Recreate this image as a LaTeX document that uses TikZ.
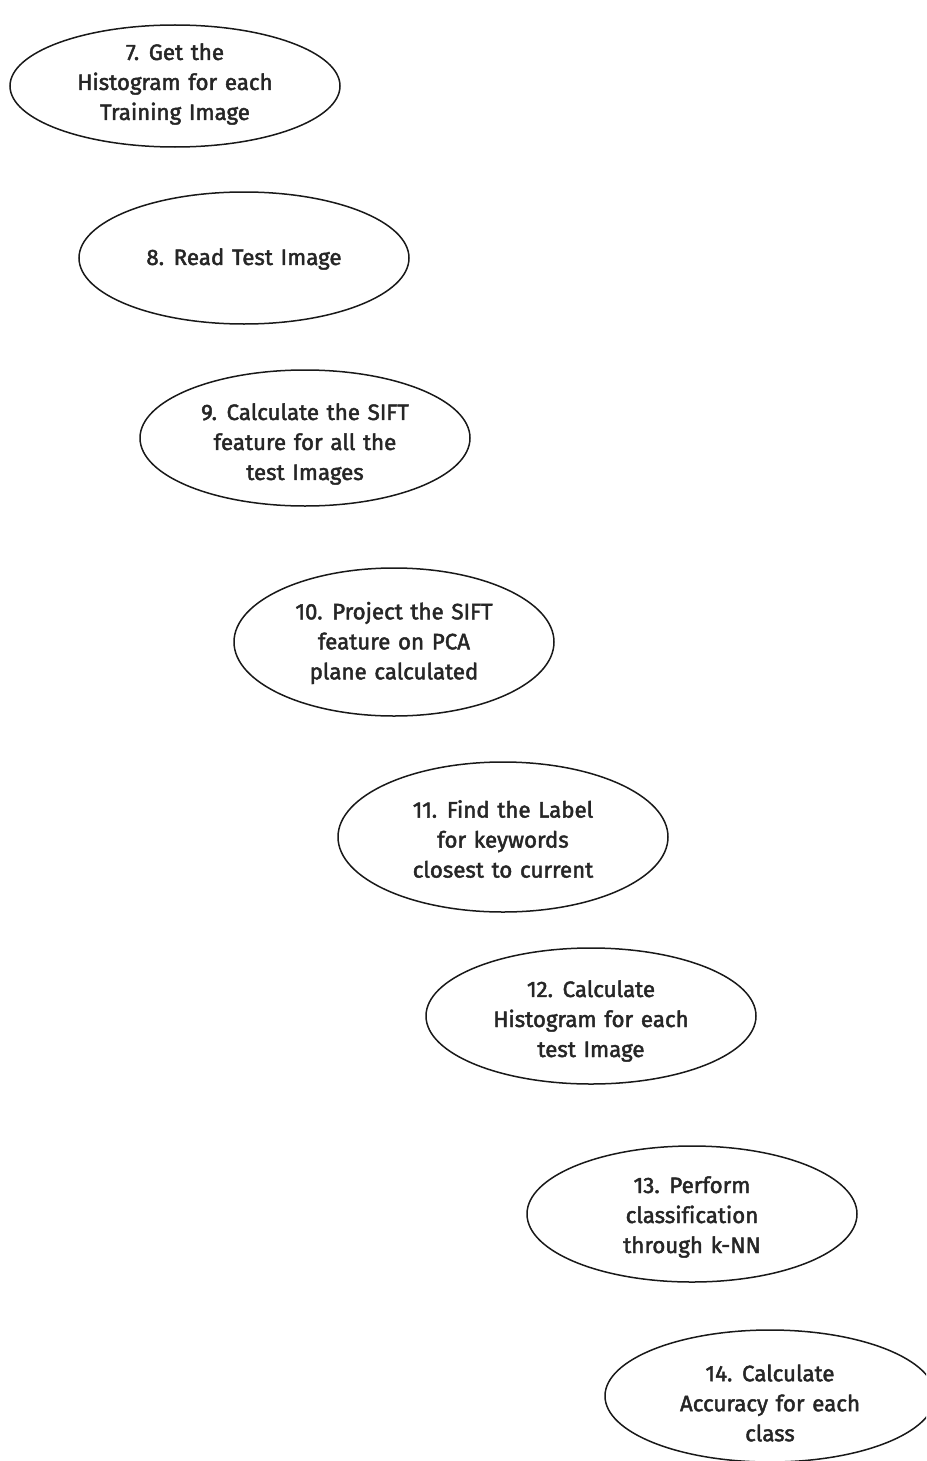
\documentclass[tikz,border=0pt]{standalone}
\usepackage{fontspec}
\newfontfamily\stagefont{Fira Sans}[FakeBold=2, WordSpace=1.3, Ligatures=NoCommon]
\usetikzlibrary{shapes.geometric}
\tikzset{
  outline/.style={draw=black!90, line width=1.5pt},
  stagetext/.style={align=center, inner sep=0pt,
    font=\stagefont\fontsize{22.3}{30}\selectfont, text=black!85}
}
\begin{document}
\begin{tikzpicture}[x=1pt,y=-1pt]
\useasboundingbox (0,0) rectangle (926,1461);
\fill[white] (0,0) rectangle (926,1461);
\begin{scope}
\clip (0,0) rectangle (926,1461);
% stage 7
\draw[outline] (175,86) ellipse [x radius=165, y radius=61];
\node[stagetext] (s7) at (175,84) {7. Get the\\Histogram for each\\Training Image};
% stage 8
\draw[outline] (244,258) ellipse [x radius=165, y radius=66];
\node[stagetext] (s8) at (244,259) {8. Read Test Image};
% stage 9
\draw[outline] (305,438) ellipse [x radius=165, y radius=68];
\node[stagetext] (s9) at (305,444) {9. Calculate the SIFT\\feature for all the\\test Images};
% stage 10
\draw[outline] (394,642) ellipse [x radius=160, y radius=74];
\node[stagetext] (s10) at (394,643) {10. Project the SIFT\\feature on PCA\\plane calculated};
% stage 11
\draw[outline] (503,837) ellipse [x radius=165, y radius=75];
\node[stagetext] (s11) at (503,839) {11. Find the Label\\for keywords\\closest to current};
% stage 12
\draw[outline] (591,1016) ellipse [x radius=165, y radius=68];
\node[stagetext] (s12) at (591,1021) {12. Calculate\\Histogram for each\\test Image};
% stage 13
\draw[outline] (692,1214) ellipse [x radius=165, y radius=68];
\node[stagetext] (s13) at (692,1217) {13. Perform\\classification\\through k-NN};
% stage 14
\draw[outline] (770,1396) ellipse [x radius=165, y radius=66];
\node[stagetext] (s14) at (770,1403) {14. Calculate\\Accuracy for each\\class};
\end{scope}
\end{tikzpicture}
\end{document}
